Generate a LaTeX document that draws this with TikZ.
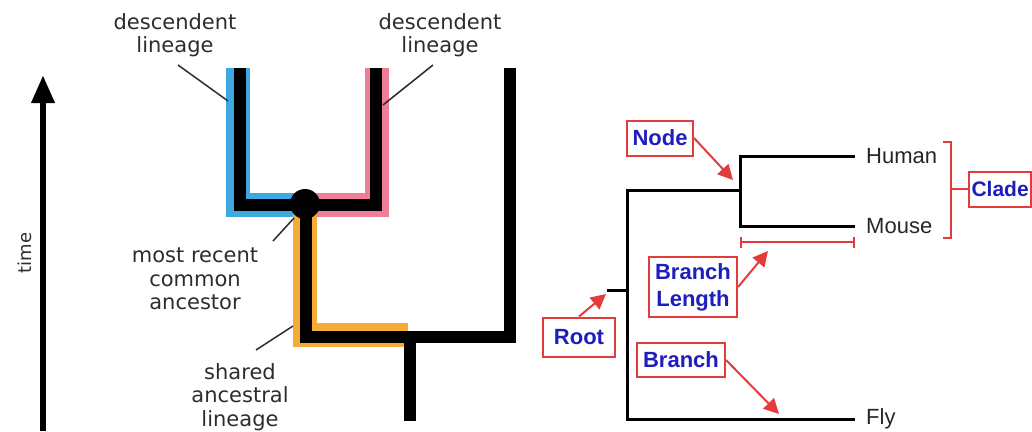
\documentclass[tikz,border=0pt]{standalone}
\usepackage{fontspec}
\setmainfont{Liberation Sans}
\newfontfamily\dejavu{DejaVu Sans}
\usetikzlibrary{arrows.meta}
\definecolor{bandblue}{RGB}{64,168,224}
\definecolor{bandpink}{RGB}{238,125,150}
\definecolor{bandorange}{RGB}{245,172,55}
\definecolor{lblred}{RGB}{228,60,60}
\definecolor{lblblue}{RGB}{30,30,190}
\definecolor{txtgray}{RGB}{45,45,45}
\tikzset{
  band/.style={line width=24pt, line join=miter, line cap=butt},
  blk/.style={line width=12pt, black, line join=miter, line cap=butt},
  lefttext/.style={font=\dejavu\fontsize{21}{23.5}\selectfont, text=txtgray, align=center, inner sep=0pt},
  pointer/.style={draw=txtgray, line width=1.5pt},
  treeline/.style={line width=3pt, black},
  taxon/.style={font=\fontsize{22}{26}\selectfont, text=black!85, anchor=west, inner xsep=11pt, inner ysep=2pt},
  lblbox/.style={draw=lblred, line width=2pt, fill=white, text=lblblue, font=\bfseries\fontsize{22}{26}\selectfont, align=center, inner xsep=5pt, inner ysep=4pt},
  redarrow/.style={draw=lblred, line width=2pt, -{Triangle[length=15pt,width=15pt]}},
  redline/.style={draw=lblred, line width=2pt},
}
\begin{document}
\begin{tikzpicture}[x=1pt,y=-1pt]
\useasboundingbox (0,0) rectangle (1032,431);
\clip (0,0) rectangle (1032,431);
% ---------- left: time arrow ----------
\coordinate (tBot) at (43,431);
\coordinate (tTop) at (43,75);
\draw[line width=6.5pt, -{Triangle[length=28pt,width=22pt]}] (tBot) -- (tTop);
\node[rotate=90, font=\dejavu\fontsize{18}{20}\selectfont, text=txtgray] (time) at (25,253) {time};
% ---------- left: coloured lineage bands ----------
\draw[band, bandblue] (238,68) -- (238,205) -- (300,205);
\draw[band, bandpink] (310,205) -- (377,205) -- (377,68);
\draw[band, bandorange] (305,212) -- (305,335) -- (408,335);
% ---------- left: tree ----------
\coordinate (bTop) at (240,68);
\coordinate (bCorner) at (240,205);
\coordinate (pCorner) at (376,205);
\coordinate (pTop) at (376,68);
\coordinate (mrca) at (306,205);
\coordinate (oCorner) at (306,337);
\coordinate (jn) at (410,337);
\coordinate (rCorner) at (510,337);
\coordinate (rTop) at (510,68);
\coordinate (jBot) at (410,421);
\draw[blk] (bTop) -- (bCorner) -- (pCorner) -- (pTop);
\draw[blk] (mrca) -- (oCorner) -- (rCorner) -- (rTop);
\draw[blk] (jn) -- (jBot);
\node[circle, fill=black, minimum size=30pt, inner sep=0pt] (mrcaDot) at (305,204) {};
% ---------- left: labels ----------
\node[lefttext] (lblDL) at (175,35) {descendent\\lineage};
\node[lefttext] (lblDR) at (440,35) {descendent\\lineage};
\node[lefttext] (lblMRCA) at (195,279) {most recent\\common\\ancestor};
\node[lefttext] (lblSAL) at (240,397) {shared\\ancestral\\lineage};
\coordinate (pDL) at (228,101);
\coordinate (pDR) at (383,105);
\coordinate (pMR) at (294,218);
\coordinate (pSA) at (293,326);
\draw[pointer] (178,65) -- (pDL);
\draw[pointer] (433,65) -- (pDR);
\draw[pointer] (273,241) -- (pMR);
\draw[pointer] (256,350) -- (pSA);
% ---------- right: tree ----------
\node[taxon] (human) at (855,156) {Human};
\node[taxon] (mouse) at (855,226) {Mouse};
\node[taxon] (fly) at (855,419) {Fly};
\coordinate (root) at (607,290);
\coordinate (rootJ) at (627,290);
\coordinate (topJ) at (627,190);
\coordinate (botJ) at (627,419);
\coordinate (hmNode) at (740,190);
\coordinate (hJ) at (740,156);
\coordinate (mJ) at (740,226);
\draw[treeline] (root) -- (rootJ);
\draw[treeline, line cap=rect] (topJ) -- (botJ);
\draw[treeline] (topJ) -- (hmNode);
\draw[treeline, line cap=rect] (hJ) -- (mJ);
\draw[treeline] (hJ) -- (human.west);
\draw[treeline] (mJ) -- (mouse.west);
\draw[treeline] (botJ) -- (fly.west);
% ---------- right: annotations ----------
\node[lblbox, minimum width=66pt, minimum height=35pt] (nodeLbl) at (660,138) {Node};
\node[lblbox, minimum width=88pt, minimum height=60pt, font=\bfseries\fontsize{22}{27}\selectfont] (blLbl) at (693,287) {Branch\\Length};
\node[lblbox, minimum width=72pt, minimum height=39pt] (rootLbl) at (579,337) {Root};
\node[lblbox, minimum width=88pt, minimum height=34pt] (brLbl) at (681,360) {Branch};
\node[lblbox, anchor=west, minimum height=35pt, inner xsep=2.5pt, font=\bfseries\fontsize{21}{25}\selectfont] (cladeLbl) at (968,189) {Clade};
\coordinate (nodeTip) at (733,180);
\coordinate (blTip) at (768,251);
\coordinate (rootTip) at (606,294);
\coordinate (brTip) at (779,414);
\draw[redarrow] (nodeLbl.east) -- (nodeTip);
\draw[redarrow] (blLbl.east) -- (blTip);
\draw[redarrow] (rootLbl.north) -- (rootTip);
\draw[redarrow] (brLbl.east) -- (brTip);
% branch length bar
\coordinate (barL) at (740,242);
\coordinate (barR) at (855,242);
\draw[redline, {Bar[width=11pt]}-{Bar[width=11pt]}] (barL) -- (barR);
% clade bracket
\coordinate (brkTop) at (943,142);
\coordinate (brkBot) at (943,238);
\coordinate (brkMid) at (951,189);
\draw[redline] (brkTop) -- (951,142) -- (951,238) -- (brkBot);
\draw[redline] (brkMid) -- (cladeLbl.west);
\end{tikzpicture}
\end{document}
